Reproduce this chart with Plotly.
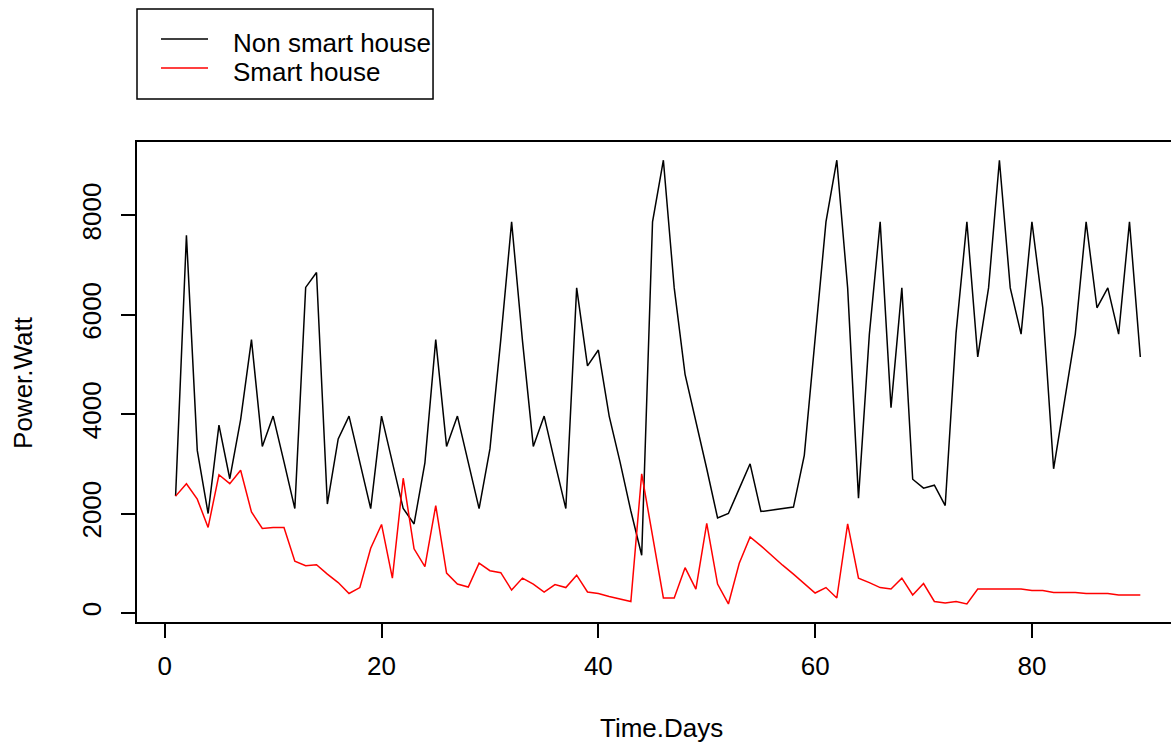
import plotly.graph_objects as go

days = list(range(1, 91))

non_smart = [2350, 7600, 3270, 2000, 3780, 2700, 3890, 5500, 3350, 3960,
             3040, 2100, 6550, 6850, 2190, 3500, 3960, 3020, 2100, 3960,
             3040, 2100, 1790, 3020, 5500, 3350, 3960, 3040, 2100, 3300,
             5500, 7870, 5480, 3350, 3960, 3020, 2100, 6540, 4970, 5290,
             3960, 3040, 2050, 1160, 7870, 9110, 6540, 4800, 3880, 2900,
             1910, 2000, 2500, 3000, 2040, 2070, 2100, 2130, 3170, 5580,
             7870, 9110, 6540, 2310, 5600, 7870, 4130, 6540, 2690, 2510,
             2570, 2160, 5630, 7870, 5150, 6540, 9110, 6540, 5610, 7870,
             6140, 2900, 4300, 5610, 7870, 6140, 6540, 5610, 7870, 5150]

smart = [2350, 2600, 2290, 1720, 2780, 2600, 2870, 2030, 1700, 1720,
         1720, 1040, 950, 970, 780, 610, 390, 510, 1300, 1780,
         700, 2710, 1290, 930, 2160, 800, 580, 520, 1000, 850,
         810, 460, 700, 580, 420, 570, 510, 760, 420, 390,
         330, 280, 230, 2800, 1550, 300, 300, 910, 480, 1800,
         580, 180, 1000, 1530, 1350, 1150, 960, 780, 590, 400,
         510, 300, 1790, 700, 610, 510, 480, 700, 360, 590,
         230, 200, 230, 180, 480, 480, 480, 480, 480, 450,
         450, 410, 410, 410, 390, 390, 390, 360, 360, 360]

series_names = ["Non smart house", "Smart house"]
series_colors = ["black", "red"]

x_ticks = [0, 20, 40, 60, 80]
y_ticks = [0, 2000, 4000, 6000, 8000]

fig = go.Figure()
for name, vals, col in zip(series_names, [non_smart, smart], series_colors):
    fig.add_trace(go.Scatter(x=days, y=vals, mode="lines", name=name,
                             line=dict(color=col, width=1.5), showlegend=False))

font_family = "Liberation Sans, Arial, sans-serif"
FS = 26

# manual legend box (placed above the plot, like the R legend)
shapes = [dict(type="rect", xref="paper", yref="paper", x0=0, x1=0.2863,
               y0=1.0896, y1=1.2771, line=dict(color="black", width=1.5),
               fillcolor="rgba(0,0,0,0)")]
annotations = []
leg_line_y = [1.2146, 1.1542]
leg_text_y = [1.2063, 1.1458]
for name, col, ly, ty in zip(series_names, series_colors, leg_line_y, leg_text_y):
    shapes.append(dict(type="line", xref="paper", yref="paper", x0=0.0232, x1=0.0687,
                       y0=ly, y1=ly, line=dict(color=col, width=1.5)))
    annotations.append(dict(text=name, xref="paper", yref="paper", x=0.0909, y=ty,
                            xanchor="left", yanchor="middle", showarrow=False,
                            font=dict(size=FS)))

annotations += [
    dict(text="Time.Days", xref="paper", yref="paper", x=0.5068, y=-0.2208,
         xanchor="center", yanchor="middle", showarrow=False, font=dict(size=FS)),
    dict(text="Power.Watt", xref="paper", yref="paper", x=-0.1103, y=0.5,
         xanchor="center", yanchor="middle", showarrow=False, textangle=-90,
         font=dict(size=FS)),
]

fig.update_layout(
    width=1171, height=742,
    margin=dict(l=137, r=0, t=142, b=120),
    plot_bgcolor="white", paper_bgcolor="white",
    font=dict(family=font_family, size=FS, color="black"),
    showlegend=False,
    xaxis=dict(range=[-2.56, 92.83], tickvals=x_ticks, ticks="outside", ticklen=14,
               tickwidth=1.5, tickcolor="black", showline=True, linecolor="black",
               linewidth=1.5, mirror=True, showgrid=False, zeroline=False,
               ticklabelstandoff=6),
    yaxis=dict(range=[-183, 9476], tickvals=y_ticks, ticks="outside", ticklen=14,
               tickwidth=1.5, tickcolor="black", showline=True, linecolor="black",
               linewidth=1.5, mirror=False, showgrid=False, zeroline=False,
               tickangle=-90, ticklabelstandoff=10),
    shapes=shapes,
    annotations=annotations,
)

fig.write_html("out.html", config={"displayModeBar": False},
               post_script="document.body.style.margin='0';document.body.style.overflow='hidden';")
